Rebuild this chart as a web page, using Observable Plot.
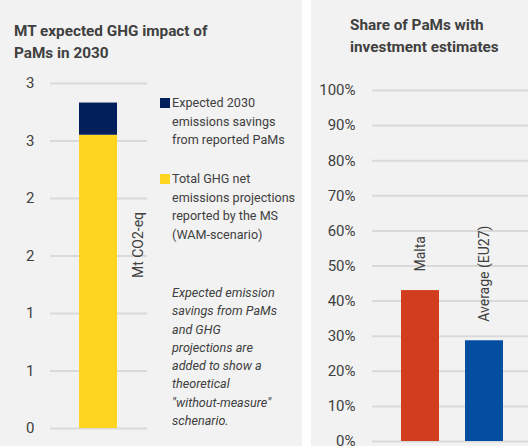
<!DOCTYPE html>
<html><head><meta charset="utf-8">
<script src="https://cdn.jsdelivr.net/npm/d3@7"></script>
<script src="https://cdn.jsdelivr.net/npm/@observablehq/plot@0.6"></script>
<style>
body{margin:0;background:#fff;font-family:Roboto,sans-serif;color:#404040;}
#wrap{position:relative;width:528px;height:446px;overflow:hidden;}
.panel{position:absolute;top:0;height:446px;background:#f2f2f2;overflow:hidden;}
#left{left:0;width:302px}
#right{left:311px;width:217px}
.panel svg{position:absolute;left:0;top:0;}
.title{position:absolute;font-weight:bold;font-size:15.3px;line-height:22px;color:#404040;white-space:nowrap;z-index:2}
.leg{position:absolute;left:160px;font-size:12.6px;line-height:18.5px;color:#404040;white-space:nowrap;z-index:2}
.sw{position:absolute;left:0;width:10px;height:10px}
.lt{position:absolute;left:12px;top:0}
.note{position:absolute;left:172px;top:284px;font-size:12.6px;line-height:18.3px;font-style:italic;color:#404040;white-space:nowrap;z-index:2}
.unit{position:absolute;font-size:14px;color:#404040;white-space:nowrap;transform-origin:center center;z-index:2}
</style>
</head><body>
<div id="wrap">
  <div class="panel" id="left">
    <div class="title" style="left:14px;top:20px">MT expected GHG impact of<br>PaMs in 2030</div>
    <div class="leg" id="leg1" style="top:94px"></div>
    <div class="leg" id="leg2" style="top:170px"></div>
    <div class="note" id="note"></div>
    <div class="unit" id="unit"></div>
  </div>
  <div class="panel" id="right">
    <div class="title" style="left:39px;top:14px">Share of PaMs with<br>investment estimates</div>
  </div>
</div>
<script>
// ---- Left panel data ----
const leftCategory = ["MT"];
const leftSeries = [
  "Total GHG net emissions projections reported by the MS (WAM-scenario)",
  "Expected 2030 emissions savings from reported PaMs"
];
const leftValues = [2.55, 0.28];
const leftColors = ["#FFD61F", "#021E5B"];
const leftTicks = [0, 0.5, 1, 1.5, 2, 2.5, 3];
const leftTickLabels = ["0", "1", "1", "2", "2", "3", "3"];
const leftUnit = "Mt CO2-eq";
const leftLegendLines = [
  ["Expected 2030", "emissions savings", "from reported PaMs"],
  ["Total GHG net", "emissions projections", "reported by the MS", "(WAM-scenario)"]
];
const noteLines = ["Expected emission", "savings from PaMs", "and GHG", "projections are", "added to show a", "theoretical", "\"without-measure\"", "schenario."];

// ---- Right panel data ----
const rightCategories = ["Malta", "Average (EU27)"];
const rightValues = [43, 28.7];
const rightColors = ["#D13D1D", "#044EA1"];
const rightTicks = [0, 10, 20, 30, 40, 50, 60, 70, 80, 90, 100];

const textColor = "#404040";
const gridColor = "#d9d9d9";

// Left chart
const leftData = leftSeries.map((s, i) => ({cat: leftCategory[0], series: s, value: leftValues[i]}));
const leftPlot = Plot.plot({
  width: 302, height: 446,
  marginLeft: 50, marginRight: 155, marginTop: 83, marginBottom: 18,
  style: {background: "transparent", fontFamily: "Roboto, sans-serif", fontSize: "15px", color: textColor},
  x: {domain: leftCategory, padding: 0.4265, axis: null},
  y: {domain: [0, 3]},
  color: {domain: leftSeries, range: leftColors},
  marks: [
    Plot.ruleY(leftTicks, {stroke: gridColor, strokeWidth: 2}),
    Plot.axisY({ticks: leftTicks, tickSize: 0, tickPadding: 16, label: null, fontSize: 15, fill: textColor,
      tickFormat: d => leftTickLabels[leftTicks.indexOf(d)]}),
    Plot.barY(leftData, {x: "cat", y: "value", fill: "series"})
  ]
});
document.getElementById("left").appendChild(leftPlot);

// Legend (left)
const legIds = ["leg1", "leg2"];
const legColorIdx = [1, 0];
legIds.forEach((id, k) => {
  const el = document.getElementById(id);
  const sw = document.createElement("div");
  sw.className = "sw";
  sw.style.top = "4px";
  sw.style.background = leftColors[legColorIdx[k]];
  el.appendChild(sw);
  const t = document.createElement("div");
  t.className = "lt";
  t.innerHTML = leftLegendLines[k].join("<br>");
  el.appendChild(t);
});
document.getElementById("note").innerHTML = noteLines.join("<br>");
const unit = document.getElementById("unit");
unit.textContent = leftUnit;
unit.style.left = "0px"; unit.style.top = "0px";
const uw = unit.offsetWidth, uh = unit.offsetHeight;
unit.style.left = (138 - uw / 2) + "px";
unit.style.top = (245 - uh / 2) + "px";
unit.style.transform = "rotate(-90deg)";

// Right chart
const rightData = rightCategories.map((c, i) => ({cat: c, value: rightValues[i]}));
const rightPlot = Plot.plot({
  width: 217, height: 446,
  marginLeft: 61, marginRight: 0, marginTop: 90, marginBottom: 5,
  style: {background: "transparent", fontFamily: "Roboto, sans-serif", fontSize: "15px", color: textColor},
  x: {domain: rightCategories, range: [63, 219], padding: 0.4, axis: null},
  y: {domain: [0, 100]},
  color: {domain: rightCategories, range: rightColors},
  marks: [
    Plot.ruleY(rightTicks, {stroke: gridColor, strokeWidth: 2}),
    Plot.axisY({ticks: rightTicks, tickSize: 0, tickPadding: 17, label: null, fontSize: 15, fill: textColor,
      tickFormat: d => d + "%"}),
    Plot.barY(rightData, {x: "cat", y: "value", fill: "cat"}),
    Plot.text(rightData, {x: "cat", y: "value", text: "cat", rotate: -90, textAnchor: "start", dy: -19,
      fontSize: 14, fill: textColor})
  ]
});
document.getElementById("right").appendChild(rightPlot);
</script>
</body></html>
